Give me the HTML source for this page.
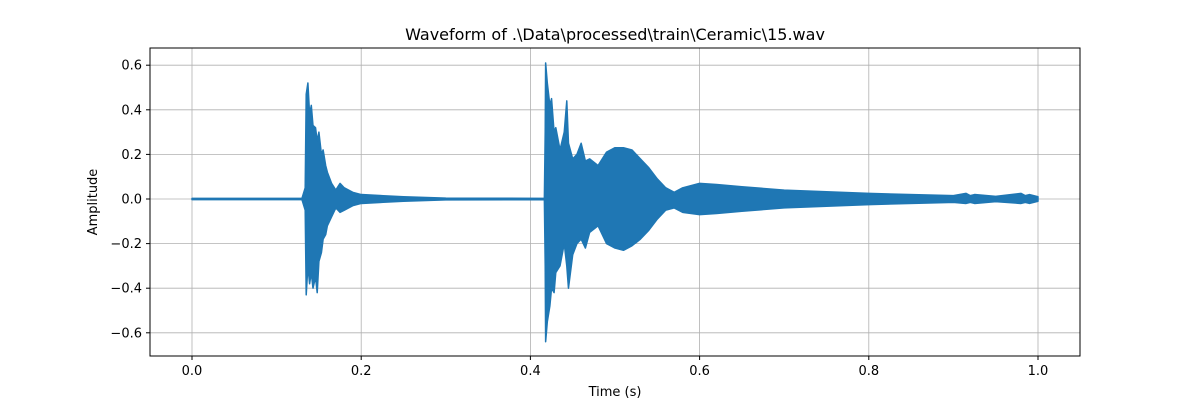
<!DOCTYPE html>
<html><head><meta charset="utf-8"><style>
html,body{margin:0;padding:0;background:#fff;}
svg{display:block;font-family:"DejaVu Sans","Liberation Sans",sans-serif;}
</style></head><body>
<svg id="chart" width="1200" height="400" viewBox="0 0 1200 400">
<rect x="0" y="0" width="1200" height="400" fill="#fff"/>
<g id="grid"></g>
<g id="wave"></g>
<rect x="150" y="48" width="930" height="308" fill="none" stroke="#000" stroke-width="1"/>
<g id="ticks"></g>
<text x="615" y="40" text-anchor="middle" font-size="16">Waveform of .\Data\processed\train\Ceramic\15.wav</text>
<text x="615" y="396" text-anchor="middle" font-size="13">Time (s)</text>
<text x="97" y="202" text-anchor="middle" font-size="13" transform="rotate(-90 97 202)">Amplitude</text>
</svg>
<script>
const xTicks=[0.0,0.2,0.4,0.6,0.8,1.0];
const yTicks=[-0.6,-0.4,-0.2,0.0,0.2,0.4,0.6];
const times=[0,0.13,0.1338,0.135,0.137,0.139,0.141,0.143,0.146,0.148,0.15,0.153,0.155,0.158,0.16,0.165,0.17,0.175,0.18,0.19,0.2,0.25,0.3,0.4165,0.4175,0.418,0.42,0.423,0.425,0.428,0.43,0.435,0.44,0.443,0.445,0.45,0.455,0.46,0.465,0.47,0.48,0.49,0.5,0.51,0.52,0.53,0.54,0.55,0.56,0.57,0.58,0.6,0.62,0.65,0.7,0.8,0.9,0.915,0.92,0.925,0.95,0.98,0.985,0.99,1.0];
const upper=[0.003,0.003,0.05,0.47,0.52,0.38,0.42,0.33,0.32,0.26,0.30,0.20,0.22,0.15,0.12,0.07,0.04,0.07,0.05,0.03,0.02,0.01,0.004,0.003,0.3,0.61,0.52,0.42,0.45,0.30,0.32,0.22,0.30,0.44,0.25,0.18,0.20,0.25,0.17,0.18,0.15,0.21,0.23,0.23,0.22,0.18,0.14,0.09,0.05,0.03,0.05,0.07,0.065,0.055,0.04,0.025,0.015,0.025,0.015,0.02,0.012,0.025,0.015,0.02,0.01];
const lower=[-0.003,-0.003,-0.05,-0.43,-0.30,-0.38,-0.33,-0.40,-0.35,-0.42,-0.28,-0.24,-0.18,-0.16,-0.12,-0.08,-0.04,-0.06,-0.05,-0.03,-0.02,-0.01,-0.004,-0.003,-0.3,-0.64,-0.55,-0.48,-0.40,-0.42,-0.33,-0.30,-0.20,-0.30,-0.40,-0.25,-0.20,-0.18,-0.22,-0.15,-0.12,-0.20,-0.22,-0.23,-0.21,-0.18,-0.14,-0.09,-0.05,-0.04,-0.06,-0.07,-0.065,-0.055,-0.04,-0.025,-0.015,-0.02,-0.015,-0.02,-0.012,-0.02,-0.015,-0.02,-0.01];
const X=t=>192+t*846;
const Y=v=>199-v*223;
const NS="http://www.w3.org/2000/svg";
const grid=document.getElementById('grid'),ticks=document.getElementById('ticks'),wave=document.getElementById('wave');
function mk(tag,attrs,parent){const e=document.createElementNS(NS,tag);for(const k in attrs)e.setAttribute(k,attrs[k]);parent.appendChild(e);return e;}
xTicks.forEach(t=>{
  const g=mk('line',{x1:X(t),x2:X(t),y1:48,y2:356,stroke:'#b0b0b0','stroke-width':0.8},grid);
  
  
  const tk=mk('line',{x1:X(t),x2:X(t),y1:356,y2:360,stroke:'#000'},ticks);
  
  
  const l=mk('text',{x:X(t),y:375,'text-anchor':'middle','font-size':13},ticks);
  l.textContent=t.toFixed(1);
  
  
});
yTicks.forEach(v=>{
  const g=mk('line',{x1:150,x2:1080,y1:Y(v),y2:Y(v),stroke:'#b0b0b0','stroke-width':0.8},grid);
  
  
  const tk=mk('line',{x1:146,x2:150,y1:Y(v),y2:Y(v),stroke:'#000'},ticks);
  
  
  const l=mk('text',{x:142,y:Y(v)+4.5,'text-anchor':'end','font-size':13},ticks);
  l.textContent=(v<0?'\u2212':'')+Math.abs(v).toFixed(1);
  
  
});
let pts=times.map((t,i)=>X(t)+','+Y(upper[i]));
for(let i=times.length-1;i>=0;i--)pts.push(X(times[i])+','+Y(lower[i]));
const poly=mk('polygon',{points:pts.join(' '),fill:'#1f77b4',stroke:'#1f77b4','stroke-width':1.5,'stroke-linejoin':'round'},wave);


</script>
</body></html>
